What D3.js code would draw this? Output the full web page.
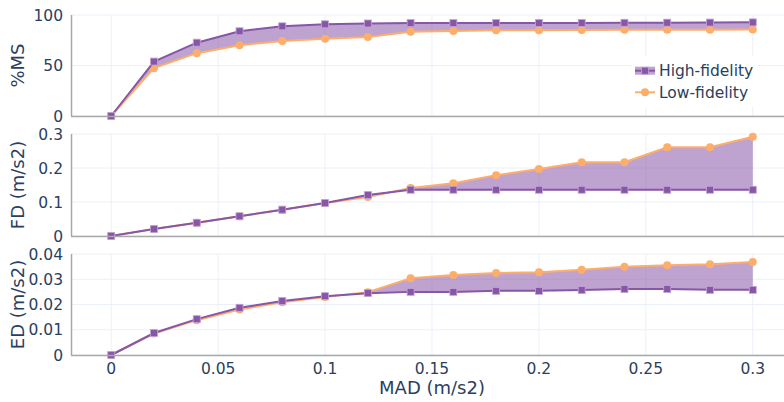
<!DOCTYPE html>
<html lang="en">
<head>
    <meta charset="UTF-8">
    <title>MAD comparison</title>
    <script src="https://d3js.org/d3.v7.min.js"></script>
    <style>
        body { margin: 0; background: #fff; }
        svg { display: block; font-family: 'DejaVu Sans', sans-serif; }
    </style>
</head>
<body>
    <svg width="784" height="402"></svg>
    <script>
        // MAD values on the shared x axis
        const mad = [0, 0.02, 0.04, 0.06, 0.08, 0.1, 0.12, 0.14, 0.16, 0.18, 0.2, 0.22, 0.24, 0.26, 0.28, 0.3];

        // %MS
        const msHigh = [0, 53.9, 72.6, 83.9, 88.8, 90.8, 91.6, 92, 92, 92, 92.1, 92.2, 92.3, 92.4, 92.5, 92.7];
        const msLow = [0, 47.4, 62.2, 70.1, 74.3, 76.6, 78.3, 83.5, 84.2, 84.9, 84.9, 85.2, 85.5, 85.5, 85.5, 85.6];

        // FD (m/s2)
        const fdHigh = [0, 0.0206, 0.039, 0.058, 0.0774, 0.097, 0.1206, 0.136, 0.136, 0.136, 0.136, 0.136, 0.136, 0.136, 0.136, 0.136];
        const fdLow = [0, 0.0206, 0.039, 0.058, 0.0774, 0.097, 0.115, 0.141, 0.155, 0.179, 0.197, 0.217, 0.217, 0.261, 0.261, 0.292];

        // ED (m/s2)
        const edHigh = [0, 0.0087, 0.0142, 0.0187, 0.0214, 0.0233, 0.0245, 0.025, 0.025, 0.0254, 0.0254, 0.0257, 0.0261, 0.0261, 0.0258, 0.0258];
        const edLow = [0, 0.0085, 0.0138, 0.018, 0.0209, 0.023, 0.0249, 0.0304, 0.0317, 0.0325, 0.0328, 0.0338, 0.035, 0.0355, 0.0359, 0.0368];

        // tick labels
        const xTicks = [0, 0.05, 0.1, 0.15, 0.2, 0.25, 0.3];
        const msTicks = [0, 50, 100];
        const fdTicks = [0, 0.1, 0.2, 0.3];
        const edTicks = [0, 0.01, 0.02, 0.03, 0.04];

        const seriesNames = ['High-fidelity', 'Low-fidelity'];

        const textColor = '#2a3f5f';
        const gridColor = '#ebf0f8';
        const axisColor = '#a9a9a9';
        const highColor = '#8856a7';
        const lowColor = '#fdae6b';
        const fillColor = 'rgba(136,86,167,0.55)';

        const svg = d3.select('svg');

        const xScale = d3.scaleLinear()
            .domain([-0.0188, 0.3146])
            .range([71, 784]);

        const panels = [
            { title: '%MS', high: msHigh, low: msLow, ticks: msTicks, max: 100, top: 15, bottom: 116 },
            { title: 'FD (m/s2)', high: fdHigh, low: fdLow, ticks: fdTicks, max: 0.3, top: 134, bottom: 236 },
            { title: 'ED (m/s2)', high: edHigh, low: edLow, ticks: edTicks, max: 0.04, top: 254, bottom: 355 }
        ];

        panels.forEach((p, pi) => {
            const yScale = d3.scaleLinear().domain([0, p.max]).range([p.bottom, p.top]);
            const g = svg.append('g');

            // grid
            g.selectAll('.vgrid').data(xTicks).enter().append('line')
                .attr('x1', d => xScale(d)).attr('x2', d => xScale(d))
                .attr('y1', p.top).attr('y2', p.bottom)
                .attr('stroke', gridColor).attr('stroke-width', 1);
            g.selectAll('.hgrid').data(p.ticks).enter().append('line')
                .attr('x1', xScale.range()[0]).attr('x2', xScale.range()[1])
                .attr('y1', d => yScale(d)).attr('y2', d => yScale(d))
                .attr('stroke', gridColor).attr('stroke-width', 1);

            // y tick labels
            g.selectAll('.ylab').data(p.ticks).enter().append('text')
                .text(d => d)
                .attr('x', 63)
                .attr('y', d => yScale(d))
                .attr('dy', '0.36em')
                .attr('text-anchor', 'end')
                .attr('font-size', 15.5)
                .attr('fill', textColor);

            // y title
            g.append('text')
                .text(p.title)
                .attr('transform', `translate(18, ${(p.top + p.bottom) / 2}) rotate(-90)`)
                .attr('dy', '0.36em')
                .attr('text-anchor', 'middle')
                .attr('font-size', 18)
                .attr('fill', textColor);

            const pts = mad.map((x, i) => ({ x: x, high: p.high[i], low: p.low[i] }));

            // fill between the two series
            const area = d3.area()
                .x(d => xScale(d.x))
                .y0(d => yScale(d.high))
                .y1(d => yScale(d.low));
            g.append('path').datum(pts)
                .attr('d', area)
                .attr('fill', fillColor);

            // low-fidelity
            const lowLine = d3.line().x(d => xScale(d.x)).y(d => yScale(d.low));
            g.append('path').datum(pts)
                .attr('d', lowLine)
                .attr('fill', 'none')
                .attr('stroke', lowColor)
                .attr('stroke-width', 2);
            g.selectAll('.lowpt').data(pts).enter().append('circle')
                .attr('cx', d => xScale(d.x))
                .attr('cy', d => yScale(d.low))
                .attr('r', 4)
                .attr('fill', lowColor);

            // high-fidelity
            const highLine = d3.line().x(d => xScale(d.x)).y(d => yScale(d.high));
            g.append('path').datum(pts)
                .attr('d', highLine)
                .attr('fill', 'none')
                .attr('stroke', highColor)
                .attr('stroke-width', 2);
            g.selectAll('.highpt').data(pts).enter().append('rect')
                .attr('x', d => xScale(d.x) - 3.5)
                .attr('y', d => yScale(d.high) - 3.5)
                .attr('width', 7)
                .attr('height', 7)
                .attr('fill', highColor)
                .attr('stroke', '#c3a6d6')
                .attr('stroke-width', 0.8);

            // axis lines
            g.append('line')
                .attr('x1', 71.5).attr('x2', 71.5)
                .attr('y1', p.top).attr('y2', p.bottom)
                .attr('stroke', axisColor).attr('stroke-width', 1.5);
            g.append('line')
                .attr('x1', 71).attr('x2', 784)
                .attr('y1', p.bottom + 0.5).attr('y2', p.bottom + 0.5)
                .attr('stroke', axisColor).attr('stroke-width', 1.5);

            // x tick labels only on the bottom panel
            if (pi === panels.length - 1) {
                g.selectAll('.xlab').data(xTicks).enter().append('text')
                    .text(d => d)
                    .attr('x', d => xScale(d))
                    .attr('y', 374)
                    .attr('text-anchor', 'middle')
                    .attr('font-size', 15.5)
                    .attr('fill', textColor);
            }
        });

        // x axis title
        svg.append('text')
            .text('MAD (m/s2)')
            .attr('x', 432)
            .attr('y', 394)
            .attr('text-anchor', 'middle')
            .attr('font-size', 18)
            .attr('fill', textColor);

        // legend
        const legend = svg.append('g');
        legend.append('rect')
            .attr('x', 632).attr('y', 56)
            .attr('width', 126).attr('height', 51)
            .attr('fill', '#fff');

        const rows = legend.selectAll('.row').data(seriesNames).enter().append('g')
            .attr('transform', (d, i) => `translate(635, ${70.7 + i * 21.6})`);

        rows.filter((d, i) => i === 0).append('rect')
            .attr('x', 0).attr('y', -4).attr('width', 20).attr('height', 8)
            .attr('fill', fillColor);
        rows.append('line')
            .attr('x1', 0).attr('x2', 20)
            .attr('stroke', (d, i) => i === 0 ? highColor : lowColor)
            .attr('stroke-width', 2);
        rows.filter((d, i) => i === 0).append('rect')
            .attr('x', 6.5).attr('y', -3.5).attr('width', 7).attr('height', 7)
            .attr('fill', highColor)
            .attr('stroke', '#c3a6d6').attr('stroke-width', 0.8);
        rows.filter((d, i) => i === 1).append('circle')
            .attr('cx', 10).attr('r', 4)
            .attr('fill', lowColor);
        rows.append('text')
            .text(d => d)
            .attr('x', 24)
            .attr('dy', '0.36em')
            .attr('font-size', 15.5)
            .attr('fill', textColor);
    </script>
</body>
</html>
